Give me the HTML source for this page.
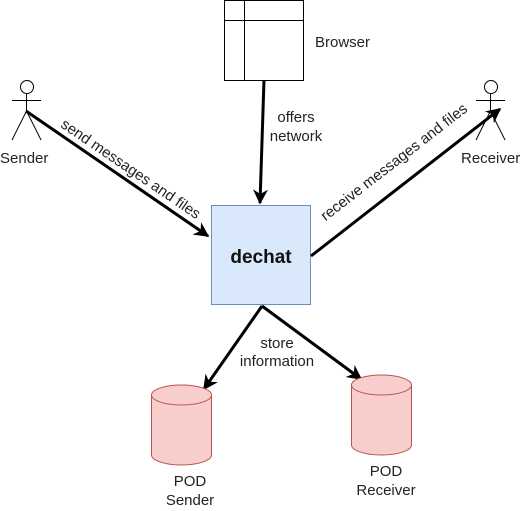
<!DOCTYPE html>
<html><head><style>body{margin:0;background:#fff}svg{display:block}text{font-family:"Liberation Sans",sans-serif;font-size:15px;fill:#222}</style></head>
<body>
<svg width="528" height="511" viewBox="0 0 528 511">
<defs><marker id="a" viewBox="0 0 10 10" refX="9" refY="5" markerWidth="5" markerHeight="5" orient="auto" markerUnits="strokeWidth"><path d="M0,0 L10,5 L0,10 L3,5 Z" fill="#000"/></marker></defs>
<!-- browser -->
<rect x="224.5" y="0.5" width="79" height="80" fill="#fff" stroke="#000"/>
<line x1="224" y1="20.5" x2="303" y2="20.5" stroke="#000"/>
<line x1="244.5" y1="0" x2="244.5" y2="80" stroke="#000"/>
<text x="315" y="47">Browser</text>
<!-- actors -->
<g fill="none" stroke="#000">
<circle cx="27" cy="87" r="6.5"/><line x1="26.5" y1="94" x2="26.5" y2="111"/><line x1="12" y1="100.5" x2="41" y2="100.5"/><line x1="26.5" y1="111" x2="12" y2="140"/><line x1="26.5" y1="111" x2="41" y2="140"/>
<circle cx="491" cy="87" r="6.5"/><line x1="490.5" y1="94" x2="490.5" y2="111"/><line x1="476" y1="100.5" x2="505" y2="100.5"/><line x1="490.5" y1="111" x2="476" y2="140"/><line x1="490.5" y1="111" x2="505" y2="140"/>
</g>
<text x="0" y="163">Sender</text>
<text x="461" y="163">Receiver</text>
<!-- dechat -->
<rect x="211.5" y="205.5" width="99" height="99" fill="#dae8fc" stroke="#6c8ebf"/>
<text x="261" y="263" text-anchor="middle" style="font-size:19px;font-weight:bold;fill:#111">dechat</text>
<!-- arrows -->
<g stroke="#000" stroke-width="3" fill="none" marker-end="url(#a)">
<line x1="264" y1="80" x2="260" y2="203"/>
<line x1="26" y1="111" x2="208" y2="236"/>
<line x1="311" y1="256" x2="500" y2="109"/>
<line x1="262" y1="306" x2="204" y2="389"/>
<line x1="262" y1="306" x2="361" y2="379"/>
</g>
<text x="296" y="122" text-anchor="middle">offers</text>
<text x="296" y="141" text-anchor="middle">network</text>
<text transform="translate(128,173) rotate(34.3)" text-anchor="middle">send messages and files</text>
<text transform="translate(397,166) rotate(-37.8)" text-anchor="middle">receive messages and files</text>
<text x="277" y="348" text-anchor="middle">store</text>
<text x="277" y="366" text-anchor="middle">information</text>
<!-- cylinders -->
<g fill="#f8cecc" stroke="#b85450">
<path d="M151.5,395 A30,10 0 0 1 211.5,395 L211.5,455 A30,10 0 0 1 151.5,455 Z"/>
<path d="M151.5,395 A30,10 0 0 0 211.5,395" fill="none"/>
<path d="M351.5,385 A30,10 0 0 1 411.5,385 L411.5,445 A30,10 0 0 1 351.5,445 Z"/>
<path d="M351.5,385 A30,10 0 0 0 411.5,385" fill="none"/>
</g>
<text x="190" y="486" text-anchor="middle">POD</text>
<text x="190" y="505" text-anchor="middle">Sender</text>
<text x="386" y="476" text-anchor="middle">POD</text>
<text x="386" y="495" text-anchor="middle">Receiver</text>
</svg>
</body></html>
